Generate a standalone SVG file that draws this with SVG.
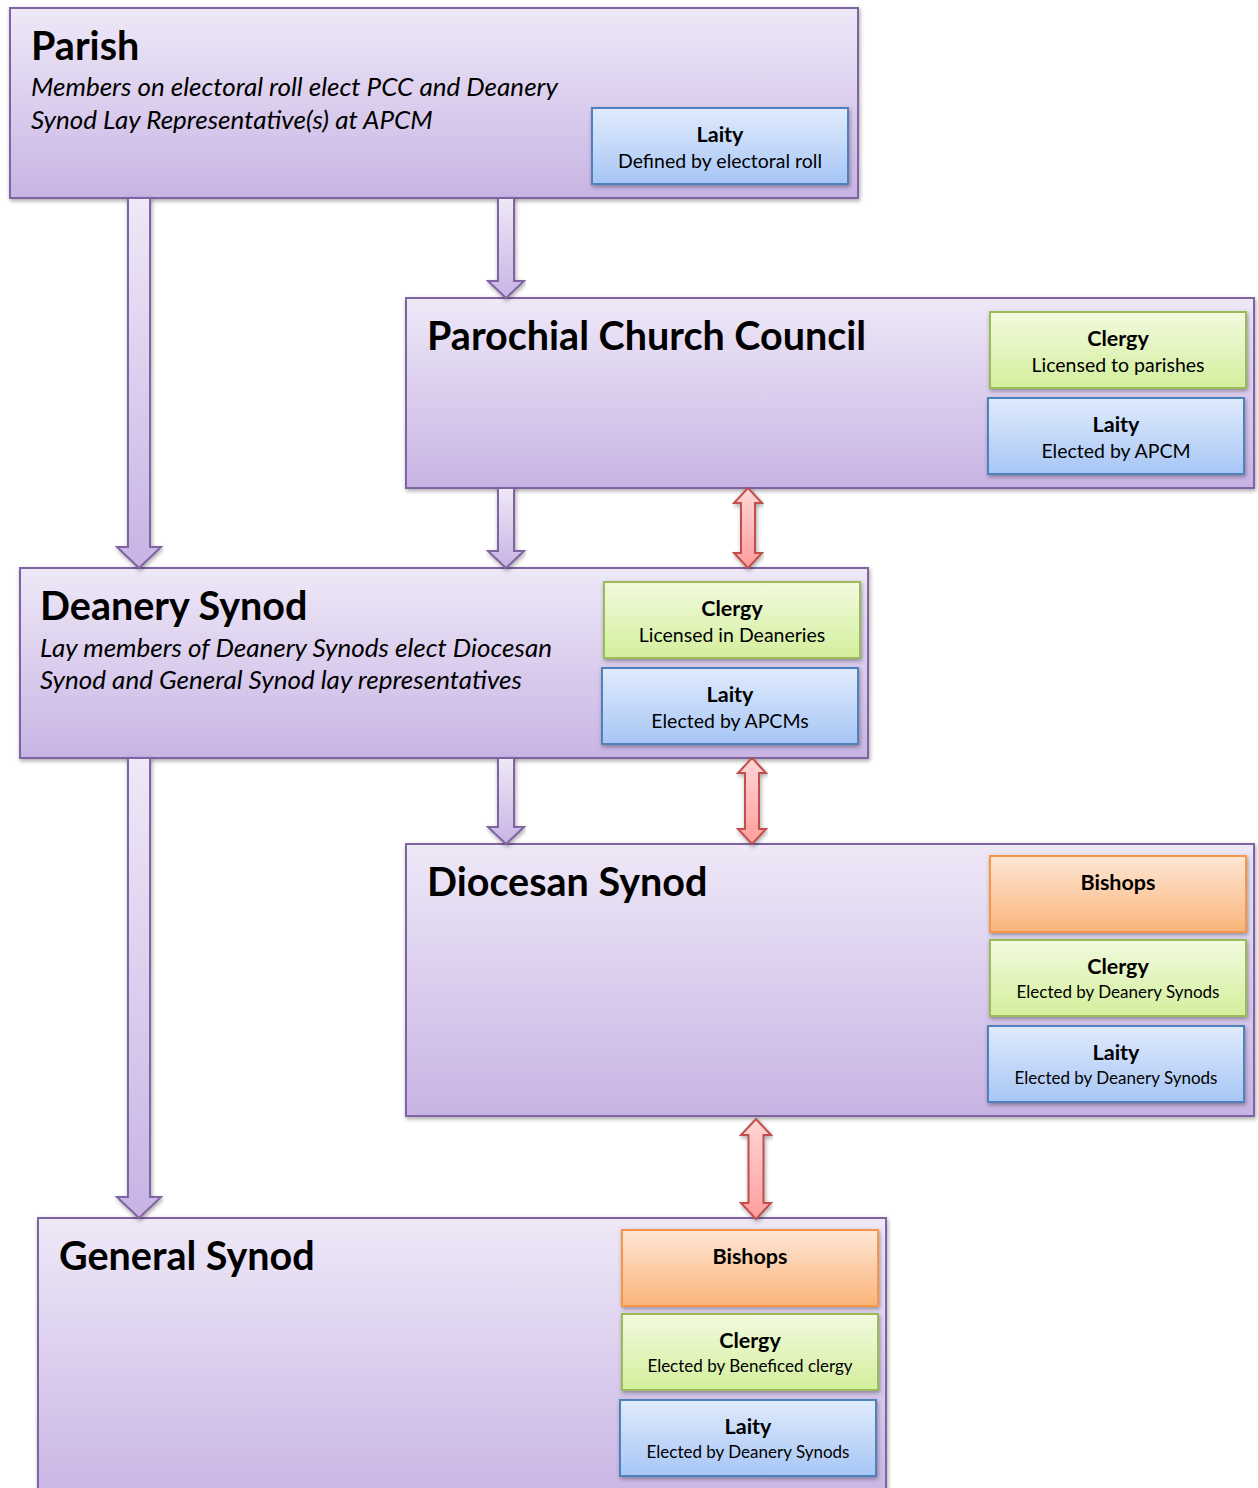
<svg xmlns="http://www.w3.org/2000/svg" width="1258" height="1488" viewBox="0 0 1258 1488">
<defs>
<linearGradient id="gPurple" x1="0" y1="0" x2="0" y2="1"><stop offset="0" stop-color="#eee8f7"/><stop offset="1" stop-color="#c8b4e4"/></linearGradient>
<linearGradient id="gBlue" x1="0" y1="0" x2="0" y2="1"><stop offset="0" stop-color="#e0ebfc"/><stop offset="1" stop-color="#a7c6f5"/></linearGradient>
<linearGradient id="gGreen" x1="0" y1="0" x2="0" y2="1"><stop offset="0" stop-color="#f2fadf"/><stop offset="1" stop-color="#d3ef9c"/></linearGradient>
<linearGradient id="gOrange" x1="0" y1="0" x2="0" y2="1"><stop offset="0" stop-color="#fee6d5"/><stop offset="1" stop-color="#fab47a"/></linearGradient>
<linearGradient id="gRed" x1="0" y1="0" x2="0" y2="1"><stop offset="0" stop-color="#ffd6d6"/><stop offset="1" stop-color="#ff9d9d"/></linearGradient>
<filter id="sh" x="-5%" y="-5%" width="110%" height="115%"><feDropShadow dx="1" dy="2" stdDeviation="2" flood-color="#000" flood-opacity="0.35"/></filter>
</defs>
<style>
.big{fill:url(#gPurple);stroke:#8064a2;stroke-width:2;filter:url(#sh)}
.blue{fill:url(#gBlue);stroke:#4f81bd;stroke-width:2;filter:url(#sh)}
.green{fill:url(#gGreen);stroke:#9bbb59;stroke-width:2;filter:url(#sh)}
.orange{fill:url(#gOrange);stroke:#f79646;stroke-width:2;filter:url(#sh)}
.parr{fill:url(#gPurple);stroke:#8064a2;stroke-width:2;filter:url(#sh)}
.rarr{fill:url(#gRed);stroke:#c0504d;stroke-width:2;filter:url(#sh)}
text{font-family:Lato,"Open Sans","Liberation Sans",sans-serif;fill:#000}
.title{font-size:39.5px;font-weight:bold}
.desc{font-size:26px;font-style:italic}
.lbl{font-size:21.5px;font-weight:bold;text-anchor:middle}
.sub{font-size:19.5px;text-anchor:middle}
.sub2{font-size:17px;text-anchor:middle}
</style>

<g id="parish">
<rect class="big" x="10" y="8" width="848" height="190"/>
<text class="title" x="31" y="60">Parish</text>
<text class="desc" x="31" y="96">Members on electoral roll elect PCC and Deanery</text>
<text class="desc" x="31" y="129">Synod Lay Representative(s) at APCM</text>
<rect class="blue" x="592" y="108" width="256" height="76"/>
<text class="lbl" x="720" y="142">Laity</text>
<text class="sub" x="720" y="168">Defined by electoral roll</text>
</g>

<g id="pcc">
<rect class="big" x="406" y="298" width="848" height="190"/>
<text class="title" x="427" y="350">Parochial Church Council</text>
<rect class="green" x="990" y="312" width="256" height="76"/>
<text class="lbl" x="1118" y="346">Clergy</text>
<text class="sub" x="1118" y="372">Licensed to parishes</text>
<rect class="blue" x="988" y="398" width="256" height="76"/>
<text class="lbl" x="1116" y="432">Laity</text>
<text class="sub" x="1116" y="458">Elected by APCM</text>
</g>

<g id="deanery">
<rect class="big" x="20" y="568" width="848" height="190"/>
<text class="title" x="40" y="620">Deanery Synod</text>
<text class="desc" x="40" y="657">Lay members of Deanery Synods elect Diocesan</text>
<text class="desc" x="40" y="689">Synod and General Synod lay representatives</text>
<rect class="green" x="604" y="582" width="256" height="76"/>
<text class="lbl" x="732" y="616">Clergy</text>
<text class="sub" x="732" y="642">Licensed in Deaneries</text>
<rect class="blue" x="602" y="668" width="256" height="76"/>
<text class="lbl" x="730" y="702">Laity</text>
<text class="sub" x="730" y="728">Elected by APCMs</text>
</g>

<g id="diocesan">
<rect class="big" x="406" y="844" width="848" height="272"/>
<text class="title" x="427" y="896">Diocesan Synod</text>
<rect class="orange" x="990" y="856" width="256" height="76"/>
<text class="lbl" x="1118" y="890">Bishops</text>
<rect class="green" x="990" y="940" width="256" height="76"/>
<text class="lbl" x="1118" y="974">Clergy</text>
<text class="sub2" x="1118" y="998">Elected by Deanery Synods</text>
<rect class="blue" x="988" y="1026" width="256" height="76"/>
<text class="lbl" x="1116" y="1060">Laity</text>
<text class="sub2" x="1116" y="1084">Elected by Deanery Synods</text>
</g>

<g id="general">
<rect class="big" x="38" y="1218" width="848" height="290"/>
<text class="title" x="59" y="1270">General Synod</text>
<rect class="orange" x="622" y="1230" width="256" height="76"/>
<text class="lbl" x="750" y="1264">Bishops</text>
<rect class="green" x="622" y="1314" width="256" height="76"/>
<text class="lbl" x="750" y="1348">Clergy</text>
<text class="sub2" x="750" y="1372">Elected by Beneficed clergy</text>
<rect class="blue" x="620" y="1400" width="256" height="76"/>
<text class="lbl" x="748" y="1434">Laity</text>
<text class="sub2" x="748" y="1458">Elected by Deanery Synods</text>
</g>

<g id="connectors">
<path class="parr" d="M128,198 H150 V547 H161 L139,568 L117,547 H128 Z"/>
<path class="parr" d="M498,198 H514 V281 H524 L506,298 L488,281 H498 Z"/>
<path class="parr" d="M498,488 H514 V551 H524 L506,568 L488,551 H498 Z"/>
<path class="parr" d="M498,758 H514 V827 H524 L506,844 L488,827 H498 Z"/>
<path class="parr" d="M128,758 H150 V1197 H161 L139,1218 L117,1197 H128 Z"/>
<path class="rarr" d="M748,488 L762,503 H755 V553 H762 L748,568 L734,553 H741 V503 H734 Z"/>
<path class="rarr" d="M752,758 L766,773 H759 V829 H766 L752,844 L738,829 H745 V773 H738 Z"/>
<path class="rarr" d="M756,1119 L771,1135 H763.5 V1203 H771 L756,1219 L741,1203 H748.5 V1135 H741 Z"/>
</g>
</svg>
